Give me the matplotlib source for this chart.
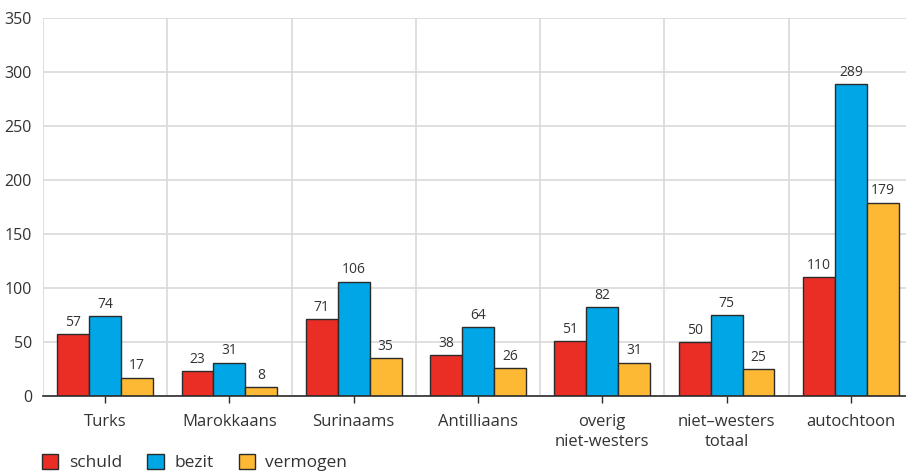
import matplotlib
matplotlib.use("Agg")
import matplotlib.pyplot as plt
import numpy as np
from matplotlib.patches import Patch

plt.rcParams['font.family'] = ['Open Sans', 'DejaVu Sans']

categories = ["Turks", "Marokkaans", "Surinaams", "Antilliaans",
              "overig\nniet-westers", "niet\u2013westers\ntotaal", "autochtoon"]
schuld = [57, 23, 71, 38, 51, 50, 110]
bezit = [74, 31, 106, 64, 82, 75, 289]
vermogen = [17, 8, 35, 26, 31, 25, 179]
series_names = ["schuld", "bezit", "vermogen"]
colors = ["#EA2D25", "#00A6E6", "#FDB933"]
yticks = [0, 50, 100, 150, 200, 250, 300, 350]

fig = plt.figure(figsize=(9.06, 4.72), dpi=100)
ax = fig.add_axes([43/906, 1-396/472, 870/906, 378/472])

x = np.arange(len(categories))
w = 0.257
edge = "#2b2b2b"
for i, (vals, name, c) in enumerate(zip([schuld, bezit, vermogen], series_names, colors)):
    xs = x + (i - 1) * w
    ax.bar(xs, vals, width=w, color=c, edgecolor=edge, linewidth=1.0, zorder=3, label=name)
    for xx, v in zip(xs, vals):
        ax.text(xx, v + 4, str(v), ha='center', va='bottom', fontsize=10, color="#333333", zorder=4)

ax.set_xlim(-0.5, len(categories) - 0.5)
ax.set_ylim(0, 350)
ax.set_yticks(yticks)
ax.set_yticklabels([str(t) for t in yticks], fontsize=11.5, color="#333333")
ax.set_xticks(x)
ax.set_xticklabels(categories, fontsize=12, color="#333333", linespacing=1.35)
ax.set_xticks(np.arange(-0.5, len(categories) + 0.5, 1), minor=True)
ax.tick_params(axis='y', length=0, pad=8)
ax.tick_params(axis='x', which='major', length=5, color=edge, width=1, pad=8)
ax.tick_params(axis='x', which='minor', length=0)
ax.grid(axis='y', color="#D9D9D9", linewidth=1.2, zorder=0)
ax.grid(axis='x', which='minor', color="#D9D9D9", linewidth=1.2, zorder=0)
ax.grid(axis='x', which='major', visible=False)
for s in ['top', 'right', 'left']:
    ax.spines[s].set_visible(False)
ax.spines['bottom'].set_color(edge)
ax.spines['bottom'].set_linewidth(1.2)
ax.spines['bottom'].set_zorder(5)

handles = [Patch(facecolor=c, edgecolor=edge, linewidth=1.0) for c in colors]
fig.legend(handles, series_names, loc='lower left', bbox_to_anchor=(0.029, -0.032),
           ncol=3, frameon=False, fontsize=12.5, handlelength=0.95, handleheight=0.95,
           columnspacing=1.45, handletextpad=0.6, labelcolor="#333333")

fig.savefig("out.png", dpi=100)
